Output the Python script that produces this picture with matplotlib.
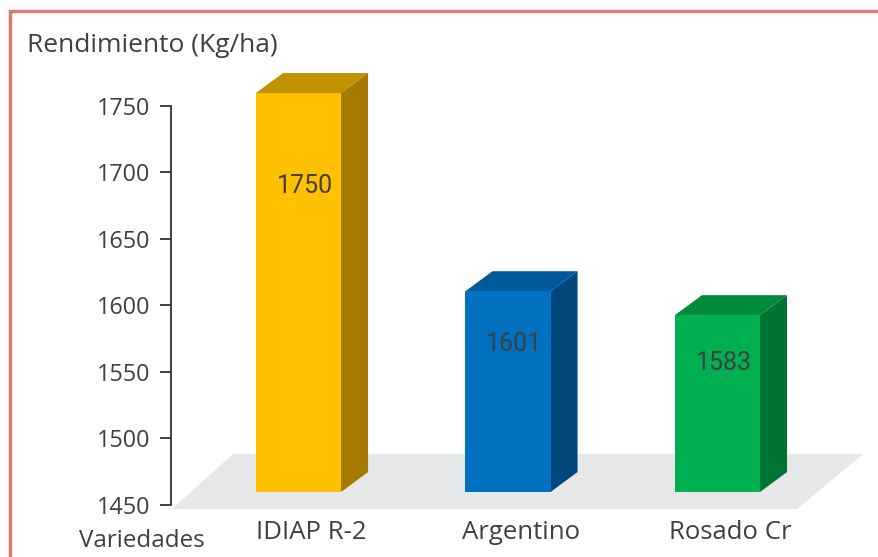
import numpy as np
import matplotlib
matplotlib.use("Agg")
import matplotlib.pyplot as plt
import matplotlib.transforms as mtransforms
from matplotlib.patches import Polygon, Rectangle

# Datos
variedades = ["IDIAP R-2", "Argentino", "Rosado Cr"]
rendimiento = [1750, 1601, 1583]
yticks = [1450, 1500, 1550, 1600, 1650, 1700, 1750]

frente = ["#FFC000", "#0070C0", "#00B050"]
lado = ["#A47A00", "#00487C", "#007533"]
techo = ["#C29100", "#00599A", "#008A3C"]

base = 1450
ancho = 0.406
dx, dy = 0.129, 15.0   # profundidad de las barras (en unidades de datos)

fig = plt.figure(figsize=(8.79, 5.57), dpi=100)
ax = fig.add_axes([0, 0, 1, 1])
ax.set_xlim(-1.425, 2.771)
ax.set_ylim(1410.9, 1829.7)
ax.patch.set_alpha(0)

texto = "#404040"
fuente = "Open Sans"

# Suelo gris
suelo = Polygon([(-0.604, 1447), (2.379, 1447), (2.695, 1488.3), (-0.313, 1488.3)],
                closed=True, facecolor="#E6E7E8", edgecolor="none", zorder=1)
ax.add_patch(suelo)

# Barras 3D (cara frontal un poco desplazada hacia arriba)
desp = mtransforms.offset_copy(ax.transData, fig=fig, x=0, y=13, units="dots")
for i, v in enumerate(rendimiento):
    x0 = i - ancho / 2
    x1 = i + ancho / 2
    ax.add_patch(Polygon([(x1, base), (x1 + dx, base + dy), (x1 + dx, v + dy), (x1, v)],
                         closed=True, facecolor=lado[i], edgecolor="none",
                         transform=desp, zorder=2))
    ax.add_patch(Polygon([(x0, v), (x1, v), (x1 + dx, v + dy), (x0 + dx, v + dy)],
                         closed=True, facecolor=techo[i], edgecolor="none",
                         transform=desp, zorder=2))
    ax.add_patch(Rectangle((x0, base), ancho, v - base, facecolor=frente[i],
                           edgecolor="none", transform=desp, zorder=3))
    ax.text(i + 0.03, base + 0.8 * (v - base), str(v), ha="center", va="center",
            fontsize=18, color=texto, family="Roboto", zorder=4)
    ax.text(i + 0.06, 1429, variedades[i], ha="center", va="center",
            fontsize=18.5, color=texto, family=fuente)

# Eje vertical
for s in ["top", "right", "bottom"]:
    ax.spines[s].set_visible(False)
ax.spines["left"].set_position(("data", -0.609))
ax.spines["left"].set_bounds(1450, 1750)
ax.spines["left"].set_linewidth(1.3)
ax.spines["left"].set_color("#333333")
ax.set_yticks(yticks)
ax.set_yticklabels([str(t) for t in yticks], fontsize=16.8, color=texto, family=fuente)
ax.tick_params(axis="y", direction="out", length=8, width=1.3, color="#333333", pad=7)
ax.set_xticks([])

fig.text(27 / 879, 1 - 45 / 557, "Rendimiento (Kg/ha)", ha="left", va="center",
         fontsize=19, color=texto, family=fuente)
fig.text(142 / 879, 1 - 541 / 557, "Variedades", ha="center", va="center",
         fontsize=17.4, color=texto, family=fuente)

# Marco rojizo
fig.patches.append(Rectangle((9.5 / 879, -0.1), 1.2, 1 - 10.5 / 557 + 0.1,
                             transform=fig.transFigure, fill=False,
                             edgecolor="#D87A7A", linewidth=2.5, zorder=10))

fig.savefig("out.png", dpi=100)
